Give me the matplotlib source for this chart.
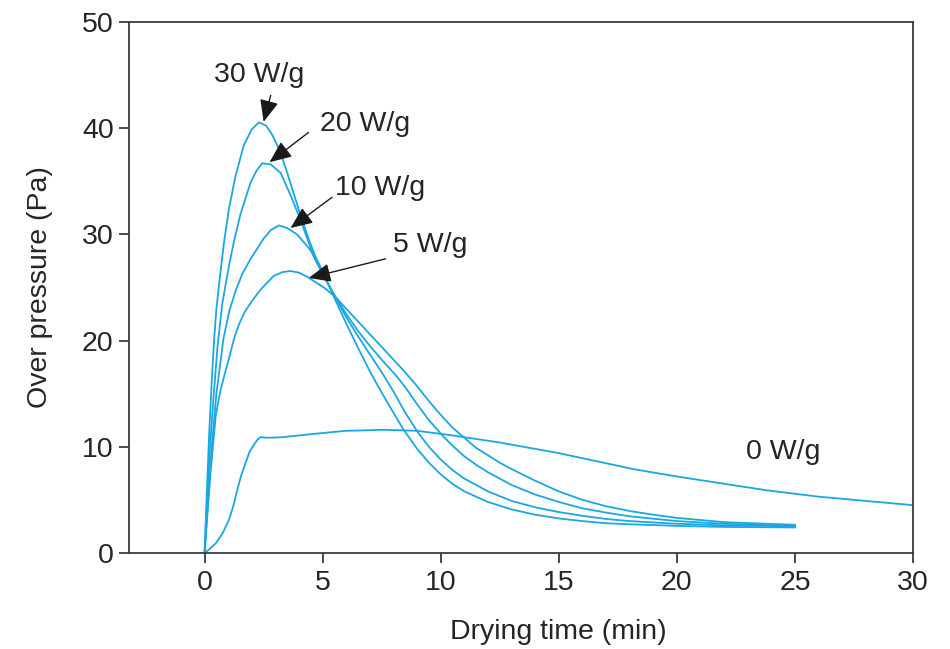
import matplotlib
matplotlib.use("Agg")
import matplotlib.pyplot as plt

plt.rcParams['font.family'] = ['Liberation Sans', 'DejaVu Sans']

# curves: drying time (min) -> over pressure (Pa)
x30 = [0, 0.1, 0.2, 0.3, 0.4, 0.5, 0.65, 0.82, 1.03, 1.31, 1.66, 2.0, 2.3, 2.6, 2.86, 3.08,
       3.29, 3.5, 3.71, 3.95, 4.2, 4.45, 4.7, 5.0, 5.5, 6.0, 6.5, 7.0, 7.5, 8.0, 8.4, 9.0,
       9.5, 10.0, 10.5, 11.0, 12.0, 13.0, 14.0, 15.0, 16.0, 17.0, 18.0, 20.0, 22.0, 25.0]
y30 = [0, 6, 11.5, 16, 20, 23, 26, 29.2, 32.4, 35.5, 38.4, 39.9, 40.55, 40.25, 39.4, 38.4,
       37.2, 35.8, 34.3, 32.6, 30.9, 29.3, 27.9, 26.5, 24.0, 21.6, 19.3, 17.1, 15.1, 13.2, 11.7, 9.8,
       8.5, 7.4, 6.5, 5.8, 4.8, 4.1, 3.6, 3.25, 3.0, 2.8, 2.7, 2.55, 2.45, 2.4]

x20 = [0, 0.1, 0.2, 0.37, 0.55, 0.75, 1.03, 1.24, 1.52, 1.95, 2.2, 2.44, 2.8, 3.22, 3.64, 4.06,
       4.35, 4.63, 5.0, 5.5, 6.0, 6.5, 7.0, 7.52, 8.0, 8.5, 9.05, 9.5, 10.0, 10.5, 11.0, 12.0,
       13.0, 14.0, 15.0, 16.0, 17.0, 18.0, 20.0, 22.0, 25.0]
y20 = [0, 4.5, 9, 14.4, 19.5, 23.5, 27, 29.3, 31.9, 34.9, 36.0, 36.7, 36.6, 35.8, 33.7, 31.4,
       29.6, 27.9, 26.3, 24.2, 22.2, 20.4, 18.7, 16.95, 15.2, 13.2, 11.3, 10.0, 8.8, 7.8, 7.0, 5.8,
       4.9, 4.3, 3.85, 3.5, 3.2, 3.0, 2.75, 2.6, 2.5]

x10 = [0, 0.1, 0.25, 0.5, 0.8, 1.05, 1.3, 1.6, 1.95, 2.5, 2.8, 3.15, 3.5, 3.92, 4.49, 5.05,
       5.5, 6.0, 6.5, 7.0, 7.5, 8.15, 8.6, 9.0, 9.5, 10.1, 10.5, 11.0, 11.5, 12.0, 13.0, 14.0,
       15.0, 16.0, 17.0, 18.0, 20.0, 22.0, 25.0]
y10 = [0, 3.5, 8.5, 15, 20.2, 22.8, 24.6, 26.3, 27.7, 29.6, 30.4, 30.85, 30.6, 30.0, 28.5, 26.1,
       24.3, 22.5, 20.9, 19.5, 18.2, 16.6, 15.3, 14.0, 12.5, 11.0, 10.1, 9.1, 8.3, 7.6, 6.4, 5.5,
       4.8, 4.2, 3.8, 3.45, 3.0, 2.75, 2.55]

x5 = [0, 0.1, 0.25, 0.47, 0.68, 1.03, 1.25, 1.45, 1.7, 2.0, 2.37, 2.93, 3.3, 3.64, 4.0, 4.35,
      4.7, 5.05, 5.5, 6.0, 6.5, 7.0, 7.5, 8.0, 8.5, 9.0, 9.5, 10.0, 10.5, 11.1, 11.5, 12.0,
      12.5, 13.0, 14.0, 15.0, 16.0, 17.0, 18.0, 19.0, 20.0, 22.0, 25.0]
y5 = [0, 3, 7.5, 12.9, 15.4, 18.3, 20.2, 21.5, 22.7, 23.7, 24.8, 26.1, 26.45, 26.55, 26.4, 26.0,
      25.5, 25.0, 24.2, 23.0, 21.8, 20.6, 19.4, 18.2, 17.0, 15.7, 14.3, 13.0, 11.8, 10.65, 9.9, 9.2,
      8.5, 7.9, 6.8, 5.8, 5.0, 4.4, 3.95, 3.6, 3.3, 2.9, 2.65]

x0 = [0, 0.2, 0.47, 0.75, 1.03, 1.2, 1.38, 1.55, 1.74, 1.9, 2.09, 2.25, 2.37, 2.7, 3.29, 4.56,
      5.97, 7.6, 9.0, 10.4, 12.5, 15.0, 18.15, 20.0, 23.8, 26.0, 28.0, 30.0]
y0 = [0, 0.35, 0.9, 1.8, 3.1, 4.3, 5.9, 7.3, 8.5, 9.5, 10.2, 10.7, 10.9, 10.85, 10.9, 11.2,
      11.5, 11.6, 11.5, 11.1, 10.4, 9.4, 7.9, 7.2, 5.9, 5.3, 4.9, 4.5]

labels = ['30 W/g', '20 W/g', '10 W/g', '5 W/g']
label_xy = [(2.3, 45.0), (6.8, 40.4), (7.45, 34.4), (9.55, 29.0)]
arrow_tail = [(2.8, 43.1), (4.4, 39.6), (5.4, 33.5), (7.66, 27.7)]
arrow_tip = [(2.5, 40.6), (2.75, 36.8), (3.64, 30.6), (4.41, 25.9)]

line_c = '#1ba7e2'
text_c = '#262424'
axis_c = '#3b3b3b'

fig = plt.figure(figsize=(9.5, 6.49), dpi=100)
ax = fig.add_axes([0.1358, 0.148, 0.8253, 0.818])

for xs, ys in [(x30, y30), (x20, y20), (x10, y10), (x5, y5), (x0, y0)]:
    ax.plot(xs, ys, color=line_c, lw=1.3, solid_joinstyle='round')

for lab, pos, tail, tip in zip(labels, label_xy, arrow_tail, arrow_tip):
    ax.text(pos[0], pos[1], lab, fontsize=20.5, color=text_c, ha='center', va='center')
    ax.annotate('', xy=tip, xytext=tail,
                arrowprops=dict(arrowstyle='-|>,head_length=0.75,head_width=0.32',
                                color='#1a1a1a', lw=1.0, mutation_scale=18,
                                shrinkA=0, shrinkB=0))
ax.text(24.5, 9.5, '0 W/g', fontsize=20.5, color=text_c, ha='center', va='center')

ax.set_xlim(-3.2, 30)
ax.set_ylim(0, 50)
ax.set_xticks(range(0, 31, 5))
ax.set_yticks(range(0, 51, 10))
for s in ax.spines.values():
    s.set_color(axis_c)
    s.set_linewidth(1.3)
ax.tick_params(direction='out', length=7, width=1.3, color=axis_c,
               labelsize=20.5, labelcolor=text_c)
ax.tick_params(axis='x', pad=5)
ax.tick_params(axis='y', pad=4)
ax.set_xlabel('Drying time (min)', fontsize=20.5, color=text_c)
ax.set_ylabel('Over pressure (Pa)', fontsize=20.5, color=text_c)
ax.xaxis.set_label_coords(0.548, -0.124)
ax.yaxis.set_label_coords(-0.097, 0.5)

fig.savefig('out.png', dpi=100)
